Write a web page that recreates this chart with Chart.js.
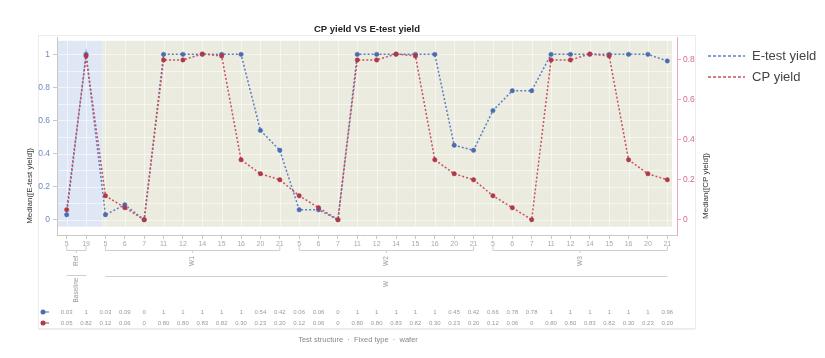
<!DOCTYPE html>
<html><head><meta charset="utf-8">
<script src="https://cdn.jsdelivr.net/npm/chart.js@4.4.1/dist/chart.umd.min.js"></script>
<style>html,body{margin:0;padding:0;background:#fff}#wrap{width:825px;height:358px}</style>
</head><body><div id="wrap"><canvas id="c" width="825" height="358"></canvas></div>
<script>
// ---- data ----
const categories = ['5','19',
  '5','6','7','11','12','14','15','16','20','21',
  '5','6','7','11','12','14','15','16','20','21',
  '5','6','7','11','12','14','15','16','20','21'];
const eTestYield = [0.03,1,
  0.03,0.09,0,1,1,1,1,1,0.54,0.42,
  0.06,0.06,0,1,1,1,1,1,0.45,0.42,
  0.66,0.78,0.78,1,1,1,1,1,1,0.96];
const cpYield = [0.05,0.82,
  0.12,0.06,0,0.8,0.8,0.83,0.82,0.3,0.23,0.2,
  0.12,0.06,0,0.8,0.8,0.83,0.82,0.3,0.23,0.2,
  0.12,0.06,0,0.8,0.8,0.83,0.82,0.3,0.23,0.2];
const leftTicks = [0,0.2,0.4,0.6,0.8,1];
const rightTicks = [0,0.2,0.4,0.6,0.8];
const groupLabels = ['Ref','W1','W2','W3'];
const groupStarts = [0,2,12,22];
const groupEnds = [1,11,21,31];
const tier2Labels = ['Baseline','W'];
const tier2Starts = [0,2];
const tier2Ends = [1,31];
const seriesNames = ['E-test yield','CP yield'];

const BLUE = '#5b7fc4', BLUE_PT = '#4a6cb0';
const RED = '#c8505f', RED_PT = '#b03848';
const F = '"Liberation Sans", Arial, sans-serif';

function fmt(v){ return (v===0||v===1) ? String(v) : v.toFixed(2); }

const deco = {
  id:'deco',
  beforeDraw(chart){
    const ctx = chart.ctx;
    ctx.save();
    ctx.strokeStyle = '#ececec'; ctx.lineWidth = 1;
    ctx.strokeRect(38.5, 35.5, 657, 293);
    ctx.restore();
  },
  beforeDatasetsDraw(chart){
    const {ctx, chartArea:ca, scales:{x, yL}} = chart;
    const sp = x.getPixelForValue(1) - x.getPixelForValue(0);
    const top = yL.getPixelForValue(1.082), bot = yL.getPixelForValue(-0.042);
    const split = x.getPixelForValue(1) + 0.85*sp;
    ctx.save();
    ctx.fillStyle = '#dfe6f4';
    ctx.fillRect(ca.left+1, top, split-ca.left-1, bot-top);
    ctx.fillStyle = '#ecebdf';
    ctx.fillRect(split, top, ca.right-5-split, bot-top);
    ctx.strokeStyle = 'rgba(255,255,255,0.55)'; ctx.lineWidth = 1;
    ctx.beginPath();
    for (let i=0;i<categories.length;i++){
      const px = Math.round(x.getPixelForValue(i))+0.5;
      ctx.moveTo(px, top); ctx.lineTo(px, bot);
    }
    for (let k=0;k<=10;k++){
      const py = Math.round(yL.getPixelForValue(k/10))+0.5;
      ctx.moveTo(ca.left+1, py); ctx.lineTo(ca.right-5, py);
    }
    ctx.stroke();
    ctx.restore();
  },
  afterDraw(chart){
    const {ctx, chartArea:ca, scales:{x}} = chart;
    ctx.save();
    // title
    ctx.fillStyle = '#222'; ctx.font = 'bold 9.5px '+F;
    ctx.textAlign = 'center'; ctx.textBaseline = 'middle';
    ctx.fillText('CP yield VS E-test yield', (ca.left+ca.right)/2, 29);
    // axis titles
    ctx.font = '8px '+F; ctx.fillStyle = '#333';
    ctx.save(); ctx.translate(30, 186); ctx.rotate(-Math.PI/2);
    ctx.fillText('Median([E-test yield])', 0, 0); ctx.restore();
    ctx.save(); ctx.translate(706, 186); ctx.rotate(-Math.PI/2);
    ctx.fillText('Median([CP yield])', 0, 0); ctx.restore();
    // legend
    const legCols = [BLUE, RED];
    ctx.lineWidth = 1.5; ctx.setLineDash([3,2]);
    ctx.font = '13px '+F; ctx.textAlign = 'left';
    seriesNames.forEach((n,i)=>{
      const y = 56 + i*21;
      ctx.strokeStyle = legCols[i];
      ctx.beginPath(); ctx.moveTo(708, y); ctx.lineTo(745, y); ctx.stroke();
      ctx.fillStyle = '#444'; ctx.fillText(n, 752, y);
    });
    ctx.setLineDash([]);
    // group brackets tier 1
    ctx.strokeStyle = '#cfcfcf'; ctx.lineWidth = 1;
    ctx.fillStyle = '#999'; ctx.font = '6.5px '+F;
    groupLabels.forEach((lab,g)=>{
      const x1 = x.getPixelForValue(groupStarts[g]), x2 = x.getPixelForValue(groupEnds[g]);
      const cx = (x1+x2)/2;
      ctx.beginPath();
      ctx.moveTo(x1, 246); ctx.lineTo(x1, 250.5); ctx.lineTo(x2, 250.5); ctx.lineTo(x2, 246);
      ctx.moveTo(cx, 250.5); ctx.lineTo(cx, 253);
      ctx.stroke();
      ctx.save(); ctx.translate(cx, 261); ctx.rotate(-Math.PI/2);
      ctx.textAlign = 'center'; ctx.textBaseline = 'middle';
      ctx.fillText(lab, 0, 0); ctx.restore();
    });
    // tier 2
    tier2Labels.forEach((lab,g)=>{
      const x1 = x.getPixelForValue(tier2Starts[g]), x2 = x.getPixelForValue(tier2Ends[g]);
      const cx = (x1+x2)/2;
      ctx.beginPath();
      if (g===0){ ctx.moveTo(x1, 275.5); ctx.lineTo(x2, 275.5); }
      else { ctx.moveTo(x1, 276.5); ctx.lineTo(x2, 276.5); }
      ctx.stroke();
      ctx.save(); ctx.translate(cx, g===0 ? 290 : 284); ctx.rotate(-Math.PI/2);
      ctx.textAlign = 'center'; ctx.textBaseline = 'middle';
      ctx.fillText(lab, 0, 0); ctx.restore();
    });
    // table
    const rows = [eTestYield, cpYield], rowCols = [BLUE_PT, RED_PT];
    ctx.font = '6px '+F; ctx.textAlign = 'center'; ctx.textBaseline = 'middle';
    rows.forEach((arr,r)=>{
      const y = 312 + r*11;
      ctx.fillStyle = rowCols[r];
      ctx.beginPath(); ctx.arc(43, y, 2.5, 0, Math.PI*2); ctx.fill();
      ctx.strokeStyle = rowCols[r]; ctx.beginPath(); ctx.moveTo(45, y); ctx.lineTo(49, y); ctx.stroke();
      ctx.fillStyle = '#9a9a9a';
      arr.forEach((v,i)=> ctx.fillText(fmt(v), x.getPixelForValue(i), y));
    });
    ctx.strokeStyle = '#eeeeee';
    ctx.beginPath(); ctx.moveTo(38, 329.5); ctx.lineTo(695, 329.5); ctx.stroke();
    // footer
    ctx.font = '7.5px '+F; ctx.fillStyle = '#888';
    ctx.fillText('Test structure  ·  Fixed type  ·  wafer', 358, 340);
    ctx.restore();
  }
};

new Chart(document.getElementById('c'), {
  type:'line',
  data:{
    labels: categories,
    datasets:[
      {label: seriesNames[1], data: cpYield, yAxisID:'yR', order:1,
       borderColor: RED, backgroundColor: RED_PT, pointBackgroundColor: RED_PT, pointBorderColor: RED_PT,
       borderWidth:1.5, borderDash:[2,2], pointRadius:2.2, pointBorderWidth:0.5, tension:0, fill:false},
      {label: seriesNames[0], data: eTestYield, yAxisID:'yL', order:2,
       borderColor: BLUE, backgroundColor: BLUE_PT, pointBackgroundColor: BLUE_PT, pointBorderColor: BLUE_PT,
       borderWidth:1.5, borderDash:[2,2], pointRadius:2.2, pointBorderWidth:0.5, tension:0, fill:false}
    ]
  },
  options:{
    responsive:false, animation:false, devicePixelRatio:1,
    layout:{padding:{left:22, right:114, top:37, bottom:105}},
    plugins:{legend:{display:false}, title:{display:false}, tooltip:{enabled:false}},
    scales:{
      x:{type:'category', offset:true,
        grid:{display:true, drawOnChartArea:false, tickLength:4, color:'#c8c8c8'},
        border:{color:'#c8c8c8'},
        ticks:{autoSkip:false, maxRotation:0, minRotation:0, padding:1, color:'#aaa', font:{size:7, family:F}},
        afterFit:(s)=>{ s.height = 18; }
      },
      yL:{type:'linear', position:'left', min:-0.0925, max:1.105,
        afterBuildTicks:(s)=>{ s.ticks = leftTicks.map(v=>({value:v})); },
        grid:{display:true, drawOnChartArea:false, tickLength:4, color:'#c8c8c8'},
        border:{color:'#c8c8c8'},
        ticks:{padding:3, color:'#7088c0', font:{size:8.5, family:F}, callback:(v)=>String(Math.round(v*10)/10)},
        afterFit:(s)=>{ s.width = 35; }
      },
      yR:{type:'linear', position:'right', min:-0.0767, max:0.915,
        afterBuildTicks:(s)=>{ s.ticks = rightTicks.map(v=>({value:v})); },
        grid:{display:true, drawOnChartArea:false, tickLength:4, color:'#e8a8b8'},
        border:{color:'#e8a8b8'},
        ticks:{padding:2, color:'#d07088', font:{size:8.5, family:F}, callback:(v)=>String(Math.round(v*10)/10)},
        afterFit:(s)=>{ s.width = 34; }
      }
    }
  },
  plugins:[deco]
});
</script>
</body></html>
